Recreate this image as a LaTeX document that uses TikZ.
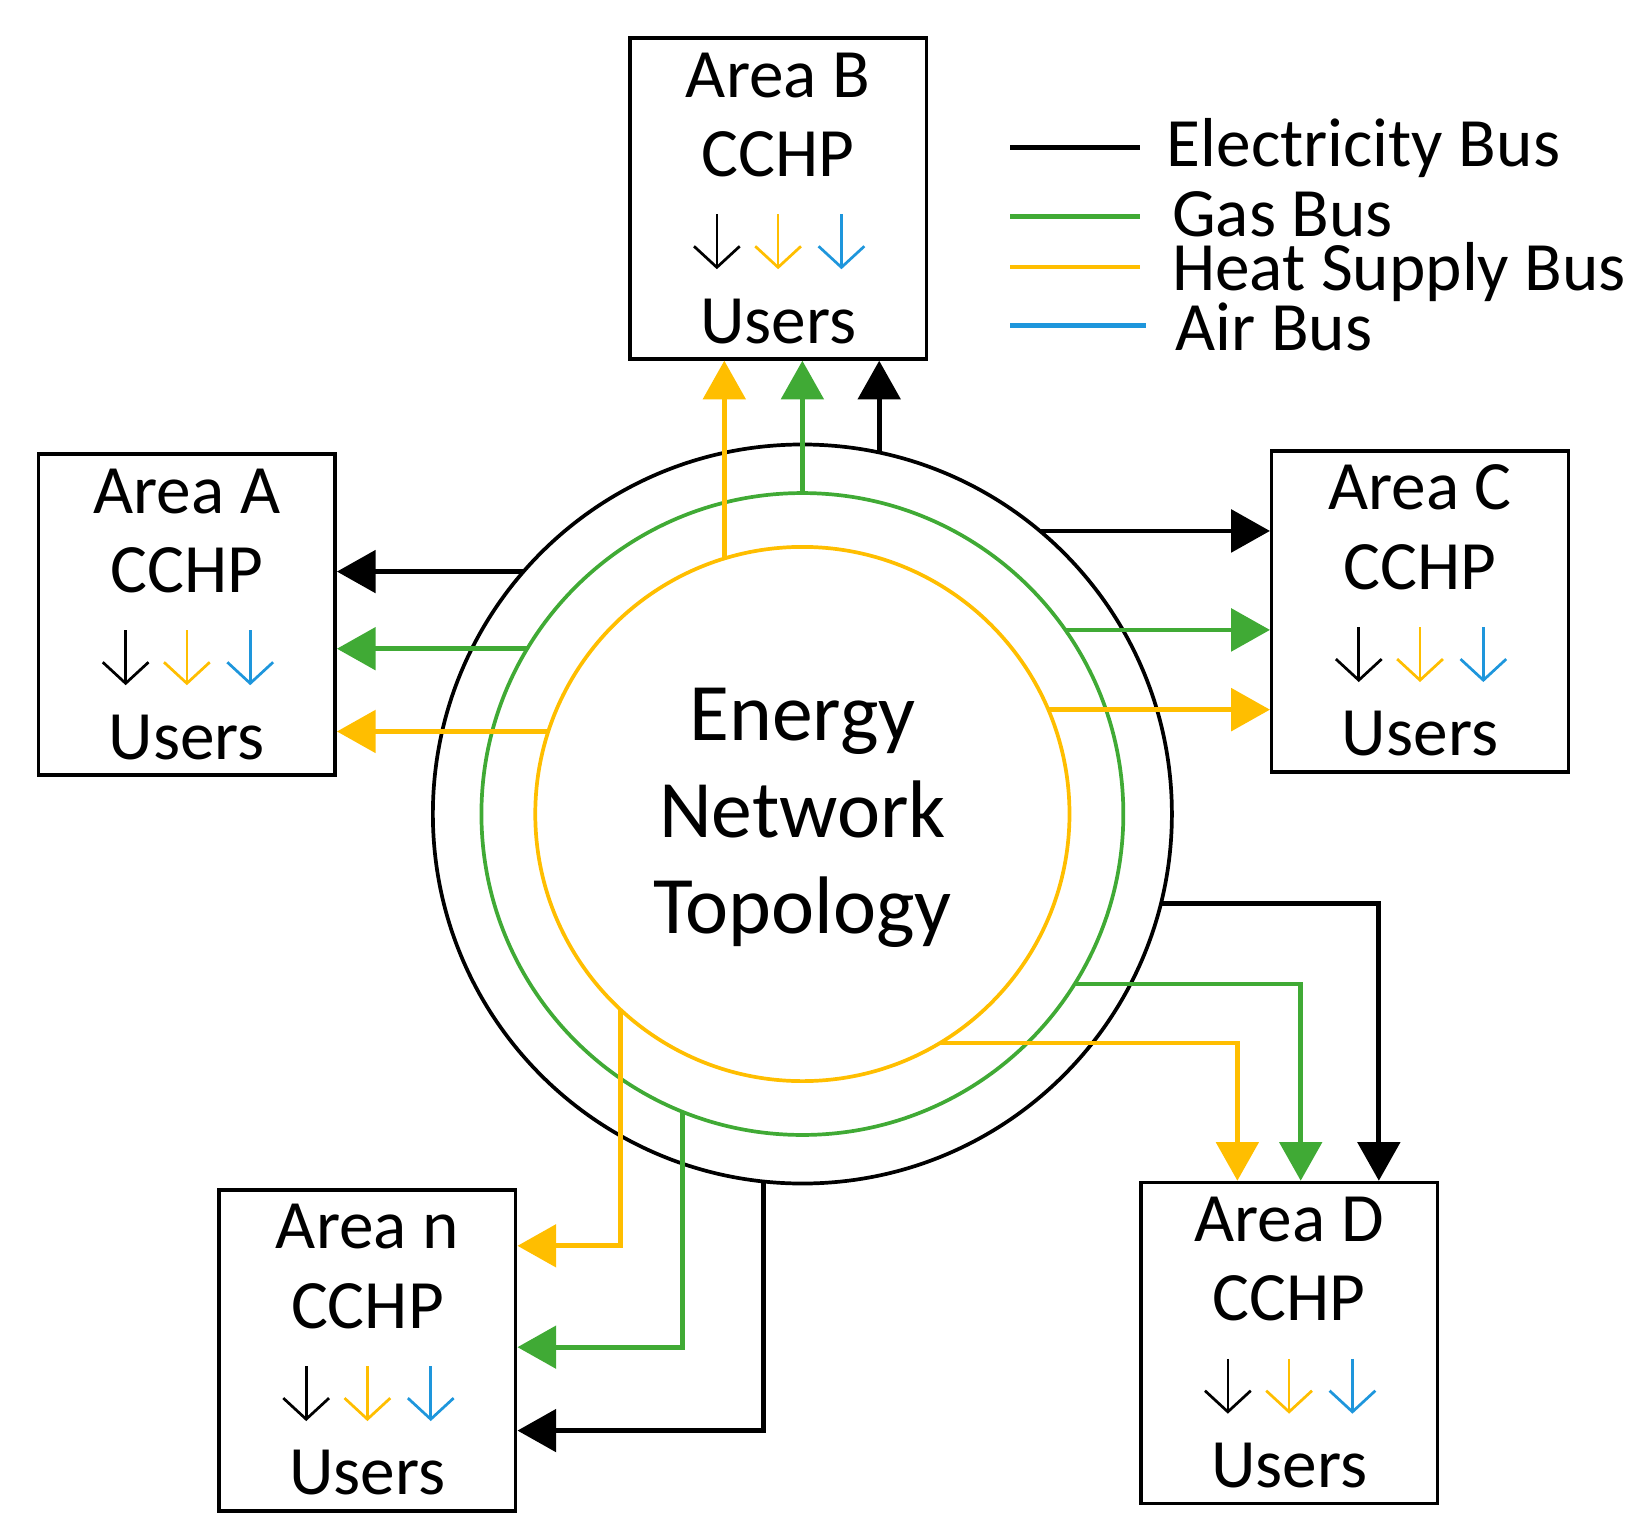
\documentclass[tikz,border=0pt]{standalone}
\usepackage{fontspec}
\setmainfont{Carlito}
\usetikzlibrary{arrows.meta}
\definecolor{cgreen}{RGB}{64,170,53}
\definecolor{cyellow}{RGB}{255,190,0}
\definecolor{cblue}{RGB}{30,150,220}
\begin{document}
\begin{tikzpicture}[x=0.03cm,y=-0.03cm,
  box/.style={draw,line width=2.8pt,minimum width=281*0.03cm,minimum height=304*0.03cm,inner sep=0},
  txt/.style={font=\fontsize{56}{64}\selectfont,inner sep=0,anchor=base},
  ring/.style={circle,inner sep=0,outer sep=0},
  bus/.style={line width=3.8pt},
  tip/.style={-{Triangle[length=1.1cm,width=1.2cm]}},
  usr/.style={line width=2.2pt,-{Straight Barb[length=0.6cm,width=1.3cm]}},
  leg/.style={line width=3.8pt}]
\useasboundingbox (0,0) rectangle (1560,1450);

% area boxes with their texts
\newcommand{\areabox}[4]{%
  \node[box] (#1) at (#2,#3) {};
  \node[txt] at (#2,#3-96) {Area #4};
  \node[txt] at (#2,#3-21) {CCHP};
  \node[txt] at (#2,#3+137) {Users};
  \draw[usr] (#2-58,#3+15) -- (#2-58,#3+67);
  \draw[usr,cyellow] (#2,#3+15) -- (#2,#3+67);
  \draw[usr,cblue] (#2+60,#3+15) -- (#2+60,#3+67);
}
\areabox{B}{737}{188}{B}
\areabox{A}{177}{582}{A}
\areabox{C}{1345}{579}{C}
\areabox{N}{348}{1279}{n}
\areabox{D}{1221}{1272}{D}

% rings
\node[ring,draw,line width=3pt,minimum size=700*0.03cm] (ck) at (760,771) {};
\node[ring,draw=cgreen,line width=3pt,minimum size=608*0.03cm] (cg) at (760,771) {};
\node[ring,draw=cyellow,line width=3pt,minimum size=506*0.03cm] (cy) at (760,771) {};
\node[font=\fontsize{66}{78}\selectfont,align=center] (topo) at (760,775) {Energy\\Network\\Topology};

% to area B
\draw[bus,tip,cyellow] (cy.107.7) -- (cy.107.7 |- B.south);
\draw[bus,tip,cgreen] (cg.90) -- (cg.90 |- B.south);
\draw[bus,tip] (ck.78.5) -- (ck.78.5 |- B.south);
% to area A
\draw[bus,tip] (ck.139) -- (ck.139 -| A.east);
\draw[bus,tip,cgreen] (cg.149.6) -- (cg.149.6 -| A.east);
\draw[bus,tip,cyellow] (cy.162) -- (cy.162 -| A.east);
% to area C
\draw[bus,tip] (ck.50.5) -- (ck.50.5 -| C.west);
\draw[bus,tip,cgreen] (cg.35.6) -- (cg.35.6 -| C.west);
\draw[bus,tip,cyellow] (cy.23) -- (cy.23 -| C.west);
% to area D
\coordinate (dk) at (1306,0);
\coordinate (dg) at (1232,0);
\coordinate (dy) at (1172,0);
\draw[bus,tip] (ck.-14.4) -| (dk |- D.north);
\draw[bus,tip,cgreen] (cg.-32.4) -| (dg |- D.north);
\draw[bus,tip,cyellow] (cy.-59) -| (dy |- D.north);
% to area n
\coordinate (ny) at (0,1180);
\coordinate (ng) at (0,1276);
\coordinate (nk) at (0,1355);
\draw[bus,tip,cyellow] (cy.-133.7) |- (ny -| N.east);
\draw[bus,tip,cgreen] (cg.-112.2) |- (ng -| N.east);
\draw[bus,tip] (ck.-96.9) |- (nk -| N.east);

% legend
\coordinate (l1) at (957,140);
\coordinate (l2) at (1080,140);
\draw[leg] (l1) -- (l2);
\node[txt,anchor=west] (t1) at (1105,140) {Electricity Bus};
\coordinate (l3) at (957,205);
\coordinate (l4) at (1080,205);
\draw[leg,cgreen] (l3) -- (l4);
\node[txt,anchor=west] (t2) at (1110,203) {Gas Bus};
\coordinate (l5) at (957,253);
\coordinate (l6) at (1080,253);
\draw[leg,cyellow] (l5) -- (l6);
\node[txt,anchor=west] (t3) at (1110,258) {Heat Supply Bus};
\coordinate (l7) at (957,308);
\coordinate (l8) at (1085,308);
\draw[leg,cblue] (l7) -- (l8);
\node[txt,anchor=west] (t4) at (1113,310) {Air Bus};
\end{tikzpicture}
\end{document}
